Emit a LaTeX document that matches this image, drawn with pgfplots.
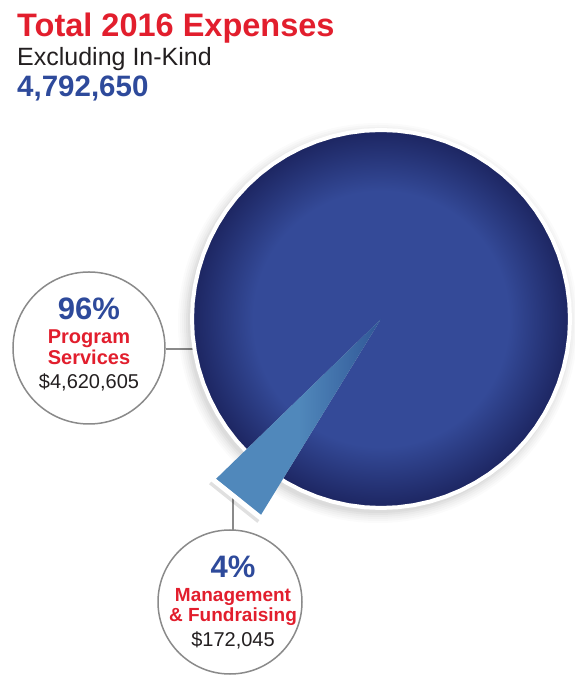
\documentclass[border=0pt]{standalone}
\usepackage{pgfplots}
\pgfplotsset{compat=1.18}
\usepackage{fontspec}
\setmainfont{Liberation Sans}
\definecolor{tred}{RGB}{226,30,45}
\definecolor{tblue}{RGB}{46,74,155}
\definecolor{tdark}{RGB}{35,31,32}
\definecolor{pieC}{RGB}{52,74,152}
\definecolor{pieE}{RGB}{29,38,98}
\definecolor{wedgeL}{RGB}{80,136,187}
\definecolor{wedgeD}{RGB}{48,86,150}
\definecolor{ringgray}{RGB}{138,138,138}
\pgfdeclareradialshading{piesh}{\pgfpoint{0bp}{0bp}}{color(0bp)=(pieC); color(17bp)=(pieC); color(25bp)=(pieE); color(50bp)=(pieE)}
\begin{document}
\begin{tikzpicture}
\useasboundingbox (0,0) rectangle (574pt,679pt);
\begin{axis}[x=1pt,y=1pt,xmin=-381,xmax=193,ymin=-360,ymax=319,
  hide axis, scale only axis, clip=false, at={(0,0)}, anchor=south west]
% connector lines
\draw[ringgray, line width=1.5pt] (axis cs:-215,-30) -- (axis cs:-185,-30);
\draw[ringgray, line width=1.5pt] (axis cs:-148,-170) -- (axis cs:-148,-211);
% soft shadow
\fill[black, opacity=0.03] (axis cs:-3,-4) circle[radius=190];
\fill[black, opacity=0.03] (axis cs:-3,-4) circle[radius=192];
\fill[black, opacity=0.025] (axis cs:-3,-4) circle[radius=194];
\fill[black, opacity=0.02] (axis cs:-3,-4) circle[radius=196];
\fill[black, opacity=0.02] (axis cs:-3,-4) circle[radius=198];
\fill[black, opacity=0.015] (axis cs:-3,-4) circle[radius=200];
% 96% slice: Program Services (345.6 deg)
\addplot[data cs=polar, shading=piesh, draw=none] coordinates {
(0,0) (238.5,188) (240,188) (245,188) (250,188) (255,188) (260,188) (265,188) (270,188) (275,188)
(280,188) (285,188) (290,188) (295,188) (300,188) (305,188) (310,188) (315,188) (320,188) (325,188)
(330,188) (335,188) (340,188) (345,188) (350,188) (355,188) (360,188) (365,188) (370,188) (375,188)
(380,188) (385,188) (390,188) (395,188) (400,188) (405,188) (410,188) (415,188) (420,188) (425,188)
(430,188) (435,188) (440,188) (445,188) (450,188) (455,188) (460,188) (465,188) (470,188) (475,188)
(480,188) (485,188) (490,188) (495,188) (500,188) (505,188) (510,188) (515,188) (520,188) (525,188)
(530,188) (535,188) (540,188) (545,188) (550,188) (555,188) (560,188) (565,188) (570,188) (575,188)
(580,188) (584.1,188) (0,0)} -- cycle;
% white rim
\addplot[data cs=polar, white, line width=4pt] coordinates {
(0,189) (5,189) (10,189) (15,189) (20,189) (25,189) (30,189) (35,189) (40,189) (45,189)
(50,189) (55,189) (60,189) (65,189) (70,189) (75,189) (80,189) (85,189) (90,189) (95,189)
(100,189) (105,189) (110,189) (115,189) (120,189) (125,189) (130,189) (135,189) (140,189) (145,189)
(150,189) (155,189) (160,189) (165,189) (170,189) (175,189) (180,189) (185,189) (190,189) (195,189)
(200,189) (205,189) (210,189) (215,189) (220,189) (225,189) (230,189) (235,189) (240,189) (245,189)
(250,189) (255,189) (260,189) (265,189) (270,189) (275,189) (280,189) (285,189) (290,189) (295,189)
(300,189) (305,189) (310,189) (315,189) (320,189) (325,189) (330,189) (335,189) (340,189) (345,189)
(350,189) (355,189) (360,189)} -- cycle;
% 4% slice: Management & Fundraising (14.4 deg), exploded outward
\addplot[data cs=polar, black, opacity=0.12, line width=4pt, line cap=butt] coordinates {(223.8,236.5) (238.8,236.5)};
\addplot[data cs=polar, draw=none, shading=axis, shading angle=-50, left color=wedgeL, right color=wedgeD, middle color=wedgeL] coordinates {(0,0) (224.1,230) (238.5,230) (0,0)} -- cycle;
\addplot[data cs=polar, white, line width=5pt, line cap=butt] coordinates {(223.6,232.5) (239.0,232.5)};
% label circles
\draw[ringgray, line width=1.5pt, fill=white] (axis cs:-292,-29) circle[radius=76];
\draw[ringgray, line width=1.5pt, fill=white] (axis cs:-151,-283) circle[radius=72];
% title
\node[anchor=base west, inner sep=0, text=tred, font=\fontsize{32.5}{36}\selectfont\bfseries] at (axis cs:-364,282) {Total 2016 Expenses};
\node[anchor=base west, inner sep=0, text=tdark, font=\fontsize{25}{28}\selectfont] at (axis cs:-364,253) {Excluding In-Kind};
\node[anchor=base west, inner sep=0, text=tblue, font=\fontsize{29.5}{32}\selectfont\bfseries] at (axis cs:-364,222) {4,792,650};
% circle 1 text
\node[anchor=base, inner sep=0, text=tblue, font=\fontsize{31}{34}\selectfont\bfseries] at (axis cs:-292,-1) {96\%};
\node[anchor=base, inner sep=0, text=tred, font=\fontsize{20}{22}\selectfont\bfseries] at (axis cs:-292,-25) {Program};
\node[anchor=base, inner sep=0, text=tred, font=\fontsize{20}{22}\selectfont\bfseries] at (axis cs:-292,-46) {Services};
\node[anchor=base, inner sep=0, text=tdark, font=\fontsize{20}{22}\selectfont] at (axis cs:-292,-70) {\$4,620,605};
% circle 2 text
\node[anchor=base, inner sep=0, text=tblue, font=\fontsize{31}{34}\selectfont\bfseries] at (axis cs:-148,-259) {4\%};
\node[anchor=base, inner sep=0, text=tred, font=\fontsize{19}{22}\selectfont\bfseries] at (axis cs:-148,-283) {Management};
\node[anchor=base, inner sep=0, text=tred, font=\fontsize{19}{22}\selectfont\bfseries] at (axis cs:-148,-303) {\& Fundraising};
\node[anchor=base, inner sep=0, text=tdark, font=\fontsize{20}{22}\selectfont] at (axis cs:-148,-328) {\$172,045};
\end{axis}
\end{tikzpicture}
\end{document}
